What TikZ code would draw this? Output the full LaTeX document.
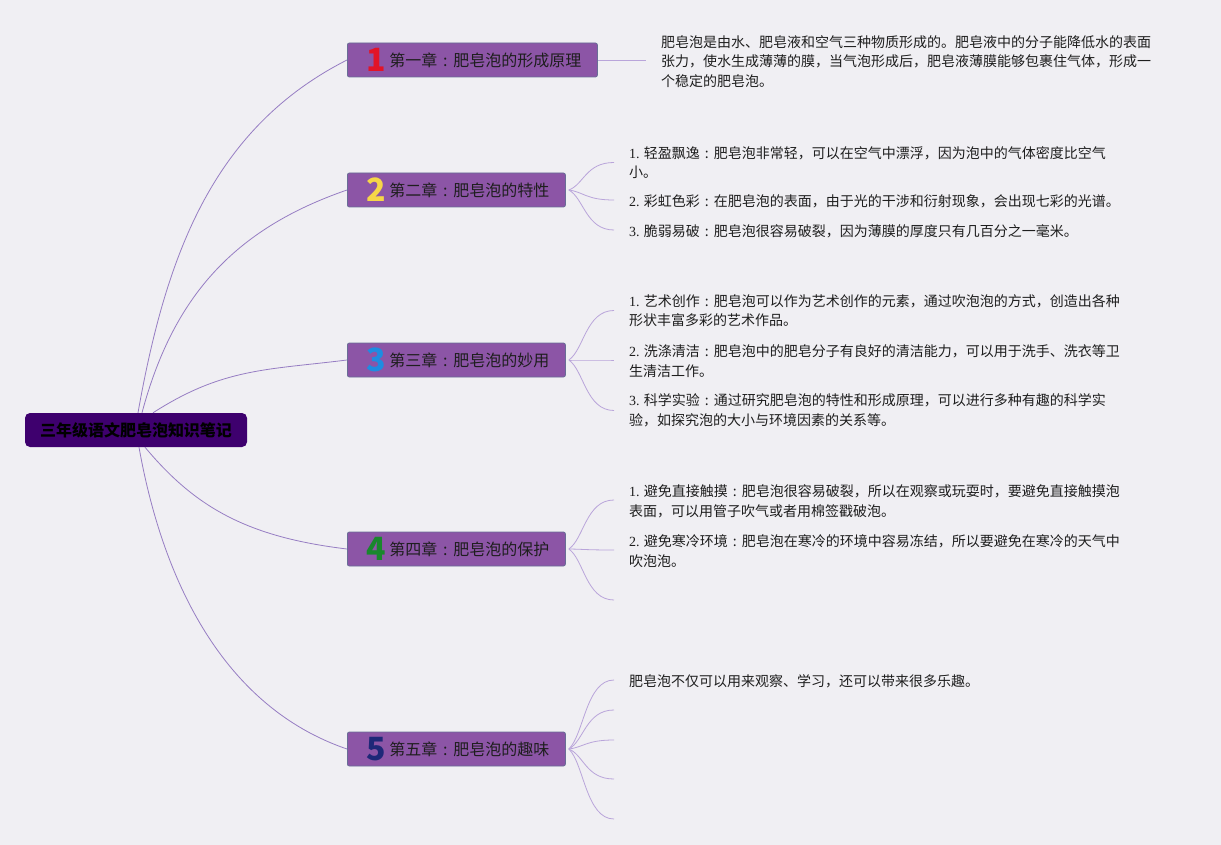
\documentclass[tikz,border=0pt]{standalone}
\usepackage{fontspec}
\setmainfont{Noto Sans CJK SC}
\newfontfamily\serifnum{Liberation Serif}
\definecolor{bgcol}{RGB}{240,239,243}
\definecolor{rootcol}{RGB}{62,0,110}
\definecolor{chapcol}{RGB}{140,85,166}
\definecolor{chapedge}{RGB}{105,110,150}
\definecolor{linkcol}{RGB}{150,125,195}
\definecolor{twigcol}{RGB}{185,165,218}
\definecolor{inkcol}{RGB}{30,30,30}
\definecolor{numa}{RGB}{226,20,40}
\definecolor{numb}{RGB}{246,214,72}
\definecolor{numc}{RGB}{30,140,225}
\definecolor{numd}{RGB}{25,135,45}
\definecolor{nume}{RGB}{30,40,120}
\newcommand{\chapno}[2]{\makebox[26pt][c]{\smash{\raisebox{-5.6pt}{\bfseries\fontsize{32}{32}\selectfont\color{#1}#2}}}}
\newcommand{\itemno}[1]{{\serifnum #1.} }
\newcommand{\fwcolon}{\makebox[1em][c]{:}}

\begin{document}
\begin{tikzpicture}[x=1pt,y=-1pt,
  root/.style={fill=rootcol,rounded corners=5pt,minimum width=222pt,minimum height=34pt,inner sep=0pt,font=\bfseries\fontsize{16}{16}\selectfont,text=black},
  chap/.style={anchor=west,fill=chapcol,draw=chapedge,line width=0.8pt,rounded corners=2pt,minimum height=34pt,inner xsep=16pt,inner ysep=0pt,font=\fontsize{16}{16}\selectfont,text=inkcol},
  leaf/.style={anchor=west,align=left,inner sep=0pt,font=\fontsize{14}{19.5}\selectfont,text=inkcol},
  link/.style={draw=linkcol,line width=0.8pt},
  twig/.style={draw=twigcol,line width=0.8pt}]
\fill[bgcol] (0,0) rectangle (1221,845);
\useasboundingbox (0,0) rectangle (1221,845);

\node[root] (root) at (136,430) {三年级语文肥皂泡知识笔记};

\node[chap] (c1) at (347,60) {\chapno{numa}{1}第一章\fwcolon 肥皂泡的形成原理};
\node[chap] (c2) at (347,190) {\chapno{numb}{2}第二章\fwcolon 肥皂泡的特性};
\node[chap] (c3) at (347,360) {\chapno{numc}{3}第三章\fwcolon 肥皂泡的妙用};
\node[chap] (c4) at (347,549) {\chapno{numd}{4}第四章\fwcolon 肥皂泡的保护};
\node[chap] (c5) at (347,749) {\chapno{nume}{5}第五章\fwcolon 肥皂泡的趣味};

\draw[link] ([xshift=2pt]root.north) .. controls +(28,-158) and +(-134,68) .. (c1.west);
\draw[link] ([xshift=6pt]root.north) .. controls +(31,-116) and +(-113,39) .. (c2.west);
\draw[link] ([xshift=17pt]root.north) .. controls +(70,-45) and +(-80,10) .. (c3.west);
\draw[link] ([xshift=9pt]root.south) .. controls +(50,60) and +(-100,-12) .. (c4.west);
\draw[link] ([xshift=3pt]root.south) .. controls +(24,135) and +(-123,-42) .. (c5.west);

% chapter 1
\coordinate (e1) at (646,60);
\draw[twig] (c1.east) -- (e1);
\node[leaf] (t1) at (661,61.5) {肥皂泡是由水、肥皂液和空气三种物质形成的。肥皂液中的分子能降低水的表面\\
张力，使水生成薄薄的膜，当气泡形成后，肥皂液薄膜能够包裹住气体，形成一\\
个稳定的肥皂泡。};

% chapter 2
\coordinate (f2) at ([xshift=3pt]c2.east);
\foreach \i/\y in {a/162.5,b/200,c/230} {
  \coordinate (e2\i) at (614,\y);
  \draw[twig] (f2) .. controls +(15,{0.2*(\y-190)}) and +(-28,0) .. (e2\i);
}
\node[leaf] (t2a) at (629,162.5) {\itemno{1}轻盈飘逸\fwcolon 肥皂泡非常轻，可以在空气中漂浮，因为泡中的气体密度比空气\\小。};
\node[leaf] (t2b) at (629,201) {\itemno{2}彩虹色彩\fwcolon 在肥皂泡的表面，由于光的干涉和衍射现象，会出现七彩的光谱。};
\node[leaf] (t2c) at (629,231) {\itemno{3}脆弱易破\fwcolon 肥皂泡很容易破裂，因为薄膜的厚度只有几百分之一毫米。};

% chapter 3
\coordinate (f3) at ([xshift=3pt]c3.east);
\foreach \i/\y in {a/310.5,b/360,c/410.5} {
  \coordinate (e3\i) at (614,\y);
  \draw[twig] (f3) .. controls +(15,{0.2*(\y-360)}) and +(-28,0) .. (e3\i);
}
\node[leaf] (t3a) at (629,310.5) {\itemno{1}艺术创作\fwcolon 肥皂泡可以作为艺术创作的元素，通过吹泡泡的方式，创造出各种\\形状丰富多彩的艺术作品。};
\node[leaf] (t3b) at (629,361) {\itemno{2}洗涤清洁\fwcolon 肥皂泡中的肥皂分子有良好的清洁能力，可以用于洗手、洗衣等卫\\生清洁工作。};
\node[leaf] (t3c) at (629,410.5) {\itemno{3}科学实验\fwcolon 通过研究肥皂泡的特性和形成原理，可以进行多种有趣的科学实\\验，如探究泡的大小与环境因素的关系等。};

% chapter 4
\coordinate (f4) at ([xshift=3pt]c4.east);
\foreach \i/\y in {a/500,b/550,c/600} {
  \coordinate (e4\i) at (614,\y);
  \draw[twig] (f4) .. controls +(15,{0.2*(\y-549)}) and +(-28,0) .. (e4\i);
}
\node[leaf] (t4a) at (629,501.5) {\itemno{1}避免直接触摸\fwcolon 肥皂泡很容易破裂，所以在观察或玩耍时，要避免直接触摸泡\\表面，可以用管子吹气或者用棉签戳破泡。};
\node[leaf] (t4b) at (629,551) {\itemno{2}避免寒冷环境\fwcolon 肥皂泡在寒冷的环境中容易冻结，所以要避免在寒冷的天气中\\吹泡泡。};

% chapter 5
\coordinate (f5) at ([xshift=3pt]c5.east);
\foreach \i/\y in {a/680,b/710,c/740,d/779,e/819} {
  \coordinate (e5\i) at (614,\y);
  \draw[twig] (f5) .. controls +(15,{0.2*(\y-749)}) and +(-28,0) .. (e5\i);
}
\node[leaf] (t5a) at (629,681) {肥皂泡不仅可以用来观察、学习，还可以带来很多乐趣。};
\end{tikzpicture}
\end{document}
